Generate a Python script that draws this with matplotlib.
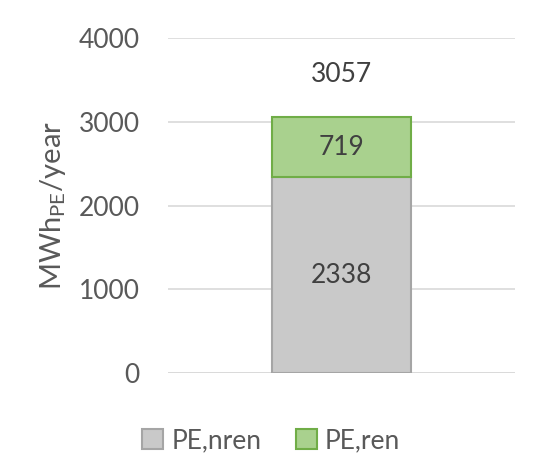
import matplotlib.pyplot as plt
import numpy as np

# ---------------- Data ----------------
categories = [""]
pe_nren = np.array([2338])
pe_ren = np.array([719])
total = pe_nren + pe_ren

plt.rcParams['font.family'] = ['Lato', 'DejaVu Sans']
txt = '#595959'

fig = plt.figure(figsize=(5.5, 4.7), dpi=100)
ax = fig.add_axes([0.305, 0.206, 0.631, 0.713])

x = np.arange(len(categories))
ax.bar(x, pe_nren, width=0.4, color='#c9c9c9', edgecolor='#a5a5a5', linewidth=1.5,
       label='PE,nren', zorder=3)
ax.bar(x, pe_ren, bottom=pe_nren, width=0.4, color='#a9d18e', edgecolor='#70ad47',
       linewidth=1.5, label='PE,ren', zorder=3)

ax.text(x[0], pe_nren[0] / 2, f"{pe_nren[0]}", ha='center', va='center', fontsize=19, color='#404040', zorder=4)
ax.text(x[0], pe_nren[0] + pe_ren[0] / 2, f"{pe_ren[0]}", ha='center', va='center', fontsize=19, color='#404040', zorder=4)
ax.text(x[0], 3560, f"{total[0]}", ha='center', va='center', fontsize=19, color='#404040')

ax.set_xlim(-0.5, 0.5)
ax.set_ylim(0, 4000)
ax.set_yticks([0, 1000, 2000, 3000, 4000])
ax.set_xticks([])
ax.tick_params(axis='y', length=0, labelsize=19, labelcolor=txt, pad=20)
ax.grid(axis='y', color='#d9d9d9', linewidth=1.2, zorder=0)
for s in ax.spines.values():
    s.set_visible(False)
ax.axhline(0, color='#d9d9d9', linewidth=1.2, zorder=1)

ax.set_ylabel("MWh$_{\\mathregular{PE}}$/year", fontsize=21, color=txt, labelpad=8)

fig.legend(loc='center', bbox_to_anchor=(0.493, 0.063), ncol=2, frameon=False,
           fontsize=19, labelcolor=txt, handlelength=0.8, handleheight=0.8,
           handletextpad=0.3, columnspacing=1.3)

fig.savefig('out.png', dpi=100)
